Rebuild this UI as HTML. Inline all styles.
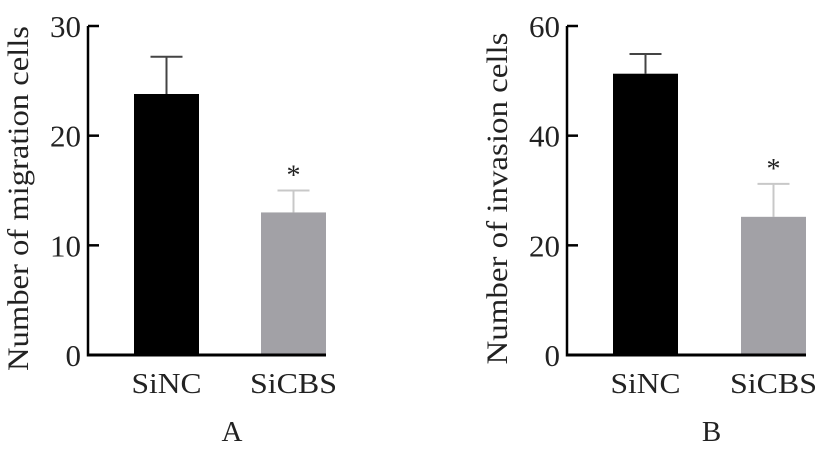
<!DOCTYPE html>
<html><head><meta charset="utf-8"><style>
html,body{margin:0;padding:0;background:#fff;}
svg text{font-family:"Liberation Serif",serif;fill:#222;}
</style></head><body>
<svg id="chart" width="822" height="449" viewBox="0 0 822 449" xmlns="http://www.w3.org/2000/svg"></svg>
<script>
const categories = ["SiNC", "SiCBS"];
const migrationValues = [23.8, 13.0];
const migrationErrors = [3.4, 2.0];
const invasionValues = [51.3, 25.2];
const invasionErrors = [3.6, 6.0];
const migrationTicks = [0, 10, 20, 30];
const invasionTicks = [0, 20, 40, 60];
const panelLabels = ["A", "B"];
const yTitles = ["Number of migration cells", "Number of invasion cells"];

const NS = "http://www.w3.org/2000/svg";
const svg = document.getElementById('chart');
function mk(tag, attrs, parent){
  const e = document.createElementNS(NS, tag);
  for (const k in attrs) e.setAttribute(k, attrs[k]);
  (parent||svg).appendChild(e);
  return e;
}
function panel(axisX, vals, errs, ticks, maxV, label, title, barX, titleLen){
  const g = mk('g', {});
  
  
  const y0 = 355, yTop = 26;
  const y = v => y0 - (v / maxV) * (y0 - yTop);
  const barW = 65;
  vals.forEach((v, i) => {
    const x = barX[i];
    const cx = x + barW / 2;
    const ec = i === 0 ? '#444' : '#c8c8c8';
    const el = mk('line', {x1: cx, x2: cx, y1: y(v), y2: y(v + errs[i]), stroke: ec, 'stroke-width': 2}, g);
    
    
    const cap = mk('line', {x1: cx - 16, x2: cx + 16, y1: y(v + errs[i]), y2: y(v + errs[i]), stroke: ec, 'stroke-width': 2}, g);
    
    
    const r = mk('rect', {x: x, y: y(v), width: barW, height: y0 - y(v), fill: i === 0 ? '#000' : '#a2a1a6'}, g);
    
    
    const len = categories[i].length > 4 ? 87 : 70;
    const t = mk('text', {x: cx, y: 393, 'font-size': 28, 'text-anchor': 'middle', textLength: len, lengthAdjust: 'spacingAndGlyphs'}, g);
    t.textContent = categories[i];
    
    
  });
  const s = mk('text', {x: barX[1] + barW / 2, y: y(vals[1] + errs[1]) - 6, 'font-size': 28, 'text-anchor': 'middle'}, g);
  s.textContent = '*';
  
  
  const ax = mk('line', {x1: axisX, x2: axisX, y1: yTop, y2: y0 + 1.5, stroke: '#000', 'stroke-width': 2.5}, g);
  
  
  const bx = mk('line', {x1: axisX - 1, x2: barX[1] + barW, y1: y0, y2: y0, stroke: '#000', 'stroke-width': 3}, g);
  
  
  ticks.forEach(tv => {
    const tl = mk('line', {x1: axisX, x2: axisX + 11, y1: y(tv), y2: y(tv), stroke: '#000', 'stroke-width': 2.5}, g);
    
    
    const tt = mk('text', {x: axisX - 7, y: y(tv) + 11, 'font-size': 31, 'text-anchor': 'end', fill: '#444'}, g);
    tt.textContent = tv;
    
    
  });
  const yt = mk('text', {x: 0, y: 0, 'font-size': 30, 'text-anchor': 'middle', textLength: titleLen, lengthAdjust: 'spacingAndGlyphs', transform: `translate(${axisX - 60},${(yTop + y0) / 2 + 8}) rotate(-90)`}, g);
  yt.textContent = title;
  
  
  const pl = mk('text', {x: (axisX + barX[1] + barW) / 2 + 25, y: 441, 'font-size': 29, 'text-anchor': 'middle'}, g);
  pl.textContent = label;
  
  
}
panel(88, migrationValues, migrationErrors, migrationTicks, 30, panelLabels[0], yTitles[0], [134, 261], 345);
panel(567, invasionValues, invasionErrors, invasionTicks, 60, panelLabels[1], yTitles[1], [613, 741], 332);
</script>
</body></html>
